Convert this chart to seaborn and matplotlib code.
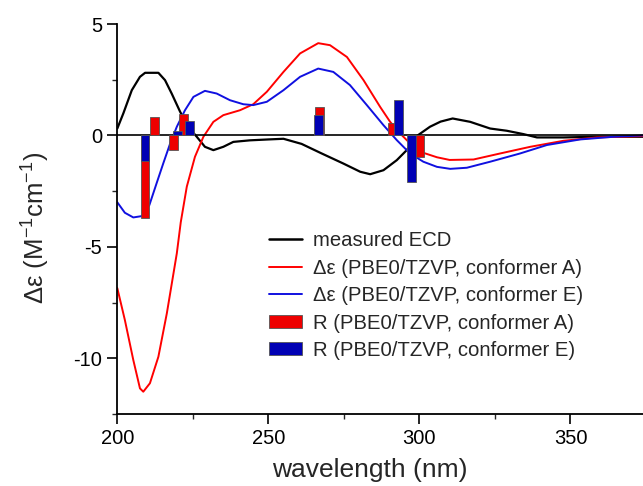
import numpy as np
import pandas as pd
import matplotlib
matplotlib.use("Agg")
import matplotlib.pyplot as plt
import seaborn as sns
from matplotlib.ticker import MultipleLocator
from matplotlib.patches import Patch
from matplotlib.lines import Line2D

# ---------------- data ----------------
exp_wl = [200, 202, 204.8, 207.5, 209.2, 213.6, 215.8, 218, 220.8, 223.5, 226.3, 229, 231.8,
          235.1, 238.4, 243.9, 250, 255, 261, 267.5, 274.8, 280.4, 283.7, 288.1, 292.5, 295.8,
          299.1, 303.5, 307, 311, 316.8, 323.4, 328.9, 334.4, 338.9, 347.7, 358.7, 374]
exp_de = [0.31, 0.99, 2.03, 2.63, 2.81, 2.81, 2.48, 1.88, 1.06, 0.39, -0.06, -0.51, -0.66,
          -0.51, -0.29, -0.22, -0.18, -0.15, -0.38, -0.80, -1.26, -1.63, -1.74, -1.56, -1.11, -0.66,
          -0.03, 0.39, 0.62, 0.76, 0.61, 0.31, 0.21, 0.06, -0.09, -0.09, -0.06, -0.06]

calcA_wl = [200, 202.5, 205.3, 207.5, 208.6, 210.8, 213.6, 216.4, 219.7, 221, 223, 225.7, 228.5,
            231.8, 235.1, 240.6, 245, 249.5, 255, 260.5, 266.5, 270.4, 276, 281.5, 287, 290.3,
            293.6, 296.9, 301.3, 305.8, 310, 317.9, 326.7, 336.7, 347.7, 358.7, 374]
calcA_de = [-6.85, -8.28, -10.08, -11.35, -11.5, -11.12, -9.93, -7.98, -5.29, -3.9, -2.3, -0.96, -0.06,
            0.61, 0.91, 1.13, 1.40, 1.96, 2.85, 3.68, 4.14, 4.05, 3.52, 2.48, 1.28, 0.61,
            0.09, -0.36, -0.78, -0.98, -1.10, -1.08, -0.81, -0.51, -0.24, -0.09, -0.03]

calcE_wl = [200, 202.5, 205.3, 208.1, 210.6, 213, 215.2, 217.5, 219.7, 222.4, 225.2, 229, 232.9,
            237.3, 241.7, 245, 249.5, 255, 260.5, 266.5, 271.5, 277, 282.6, 288.1, 292.5, 296.9,
            301.3, 305.8, 310.2, 315.7, 323.4, 333.3, 342.2, 353.2, 364.2, 374]
calcE_de = [-3.0, -3.47, -3.68, -3.62, -3.13, -2.15, -1.26, -0.36, 0.39, 1.13, 1.73, 2.0, 1.88,
            1.58, 1.40, 1.36, 1.51, 2.03, 2.63, 3.0, 2.85, 2.26, 1.36, 0.46, -0.21, -0.81,
            -1.18, -1.41, -1.50, -1.45, -1.18, -0.81, -0.43, -0.18, -0.06, 0.0]

barA_wl = [209.2, 212.2, 218.5, 222.0, 266.8, 291.1, 299.9]
barA_R = [-3.7, 0.83, -0.64, 0.95, 1.27, 0.57, -0.98]
barE_wl = [209.2, 219.9, 223.9, 266.6, 293.1, 297.3]
barE_R = [-1.13, 0.22, 0.65, 0.93, 1.6, -2.1]

labels = ["measured ECD",
          "Δε (PBE0/TZVP, conformer A)",
          "Δε (PBE0/TZVP, conformer E)",
          "R (PBE0/TZVP, conformer A)",
          "R (PBE0/TZVP, conformer E)"]

# ---------------- style ----------------
sns.set_style("ticks")
plt.rcParams['font.family'] = ['Liberation Sans', 'DejaVu Sans']
plt.rcParams['mathtext.fontset'] = 'custom'
plt.rcParams['mathtext.rm'] = 'Liberation Sans'
plt.rcParams['mathtext.it'] = 'Liberation Sans:italic'
plt.rcParams['axes.unicode_minus'] = False

W, H = 643, 486
fig = plt.figure(figsize=(W / 100, H / 100), dpi=100)
ax = fig.add_axes([117.3 / W, 72 / H, (W - 117.3) / W, 390 / H])

red_line = '#ff0000'
blue_line = '#1010e0'
red_bar = '#ee0000'
blue_bar = '#0000b4'

df_exp = pd.DataFrame({'wl': exp_wl, 'de': exp_de})
df_A = pd.DataFrame({'wl': calcA_wl, 'de': calcA_de})
df_E = pd.DataFrame({'wl': calcE_wl, 'de': calcE_de})

sns.lineplot(data=df_exp, x='wl', y='de', color='black', lw=1.6, ax=ax, zorder=2)
sns.lineplot(data=df_A, x='wl', y='de', color=red_line, lw=1.4, ax=ax, zorder=2)
sns.lineplot(data=df_E, x='wl', y='de', color=blue_line, lw=1.4, ax=ax, zorder=2)

ax.axhline(0, color='black', lw=1.2, zorder=2.5)

bw = 2.9
ax.bar(barA_wl, barA_R, width=bw, color=red_bar, edgecolor='#555555', linewidth=0.6, zorder=3)
ax.bar(barE_wl, barE_R, width=bw, color=blue_bar, edgecolor='#555555', linewidth=0.6, zorder=3.1)

ax.set_xlim(200, 374)
ax.set_ylim(-12.5, 5)
ax.xaxis.set_major_locator(MultipleLocator(50))
ax.xaxis.set_minor_locator(MultipleLocator(25))
ax.yaxis.set_major_locator(MultipleLocator(5))
ax.yaxis.set_minor_locator(MultipleLocator(2.5))
ax.tick_params(which='major', direction='out', length=7, width=1.2, labelsize=14.5, pad=4, colors='black')
ax.tick_params(which='minor', direction='out', length=3.5, width=1.0)

for s in ['top', 'right']:
    ax.spines[s].set_visible(False)
for s in ['left', 'bottom']:
    ax.spines[s].set_linewidth(1.3)
    ax.spines[s].set_color('black')

ax.set_xlabel("wavelength (nm)", fontsize=19)
ax.xaxis.set_label_coords(0.48, -0.112)
ax.set_ylabel("Δε (M$^{-1}$cm$^{-1}$)", fontsize=18.5)
ax.yaxis.set_label_coords(-0.155, 0.477)
ax.yaxis.label.set_va('center')

handles = [Line2D([], [], color='black', lw=1.8),
           Line2D([], [], color=red_line, lw=1.4),
           Line2D([], [], color=blue_line, lw=1.4),
           Patch(facecolor=red_bar, edgecolor='#555555', linewidth=0.6),
           Patch(facecolor=blue_bar, edgecolor='#555555', linewidth=0.6)]
leg = ax.legend(handles, labels, loc='upper left',
                bbox_to_anchor=(269 / W, 1 - 231 / H), bbox_transform=fig.transFigure,
                frameon=False, fontsize=14.6, handlelength=1.65, handleheight=0.6,
                handletextpad=0.5, labelspacing=0.42, borderpad=0, borderaxespad=0)

fig.savefig("out.png", dpi=100)
